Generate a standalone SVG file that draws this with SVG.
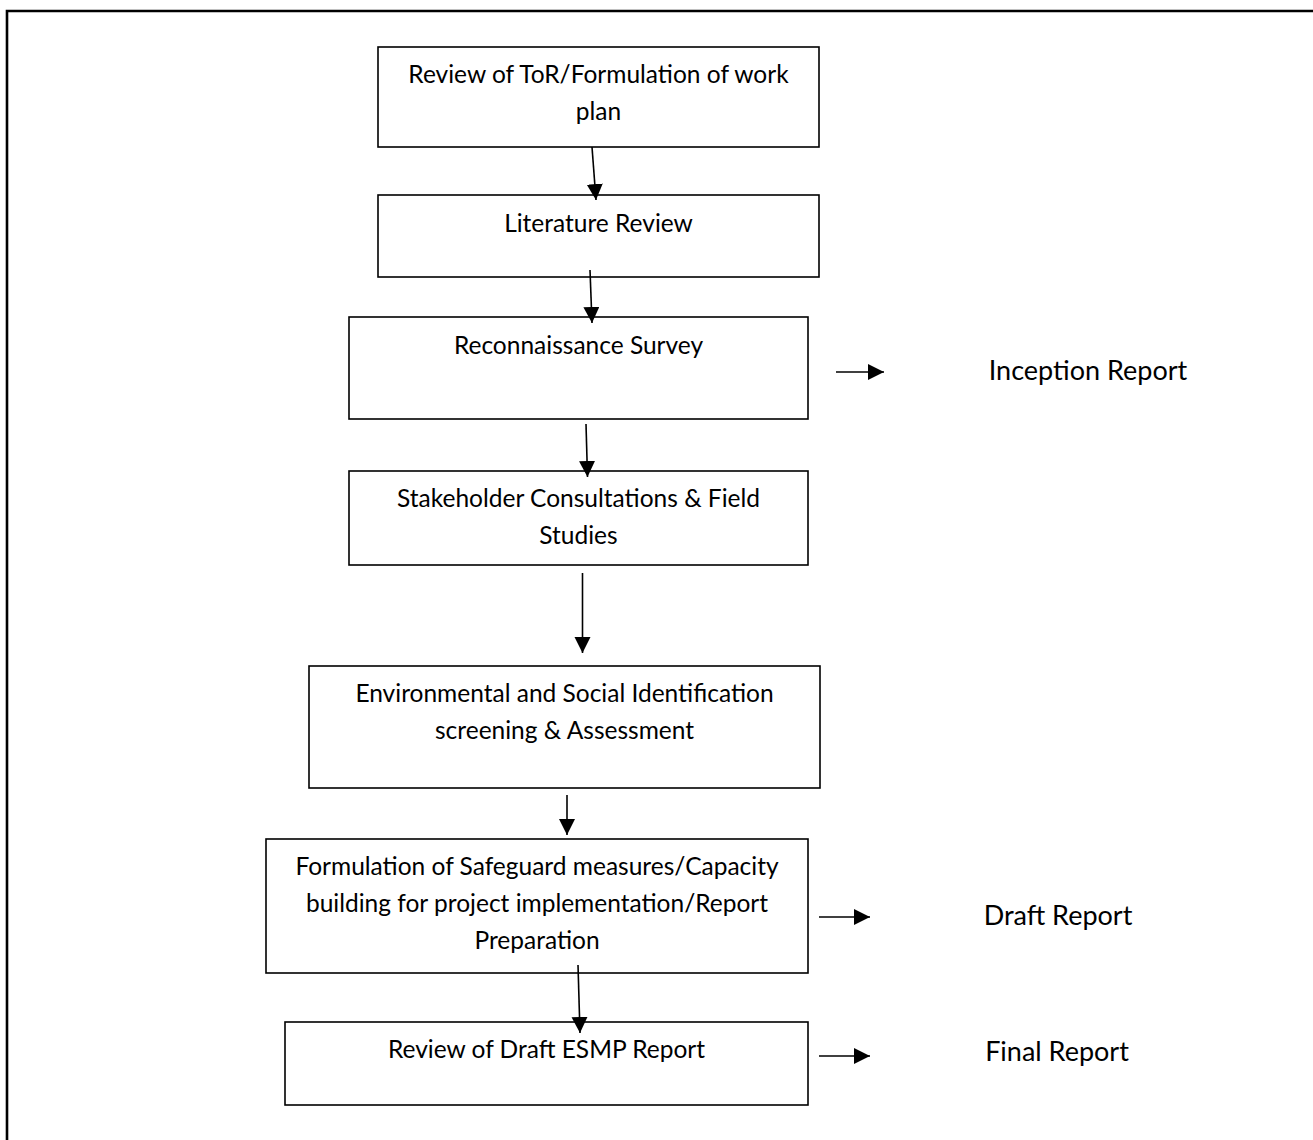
<svg xmlns="http://www.w3.org/2000/svg" width="1313" height="1140" viewBox="0 0 1313 1140">
<defs>
<style>
.box{fill:#fff;stroke:#000;stroke-width:1.6}
.t{font-family:Lato,"Noto Sans","Liberation Sans",sans-serif;font-size:24.5px;fill:#000;text-anchor:middle}
.r{font-family:Lato,"Noto Sans","Liberation Sans",sans-serif;font-size:27px;fill:#000;text-anchor:middle}
.c{stroke:#000;stroke-width:1.6;fill:none;marker-end:url(#ah)}
</style>
<marker id="ah" markerUnits="userSpaceOnUse" markerWidth="17" markerHeight="17" refX="16" refY="8" orient="auto" viewBox="0 0 17 17">
<path d="M0,0 L16,8 L0,16 z" fill="#000"/>
</marker>
</defs>
<rect width="1313" height="1140" fill="#fff"/>
<path d="M7,1140 V11 H1313" fill="none" stroke="#000" stroke-width="2.6"/>
<g id="n1"><rect class="box" x="378" y="47" width="441" height="100"/><text class="t" x="598.5" y="83">Review of ToR/Formulation of work</text><text class="t" x="598.5" y="120">plan</text></g>
<g id="n2"><rect class="box" x="378" y="195" width="441" height="82"/><text class="t" x="598.5" y="232">Literature Review</text></g>
<g id="n3"><rect class="box" x="349" y="317" width="459" height="102"/><text class="t" x="578.5" y="354">Reconnaissance Survey</text></g>
<g id="n4"><rect class="box" x="349" y="471" width="459" height="94"/><text class="t" x="578.5" y="507">Stakeholder Consultations &amp; Field</text><text class="t" x="578.5" y="544">Studies</text></g>
<g id="n5"><rect class="box" x="309" y="666" width="511" height="122"/><text class="t" x="564.5" y="702">Environmental and Social Identification</text><text class="t" x="564.5" y="739">screening &amp; Assessment</text></g>
<g id="n6"><rect class="box" x="266" y="839" width="542" height="134"/><text class="t" x="537" y="875">Formulation of Safeguard measures/Capacity</text><text class="t" x="537" y="912">building for project implementation/Report</text><text class="t" x="537" y="949">Preparation</text></g>
<g id="n7"><rect class="box" x="285" y="1022" width="523" height="83"/><text class="t" x="546.5" y="1058">Review of Draft ESMP Report</text></g>
<g id="l1"><text class="r" x="1088" y="380">Inception Report</text></g>
<g id="l2"><text class="r" x="1058" y="925">Draft Report</text></g>
<g id="l3"><text class="r" x="1057" y="1061">Final Report</text></g>
<g id="connectors">
<line class="c" x1="592" y1="147" x2="596" y2="200"/>
<line class="c" x1="590" y1="270" x2="592" y2="323"/>
<line class="c" x1="586" y1="424" x2="587.5" y2="477"/>
<line class="c" x1="582.5" y1="573" x2="582.5" y2="653"/>
<line class="c" x1="567" y1="795" x2="567" y2="835"/>
<line class="c" x1="578" y1="965" x2="580" y2="1033"/>
<line class="c" x1="836" y1="372" x2="884" y2="372"/>
<line class="c" x1="819" y1="917" x2="870" y2="917"/>
<line class="c" x1="819" y1="1056" x2="870" y2="1056"/>
</g>
</svg>
